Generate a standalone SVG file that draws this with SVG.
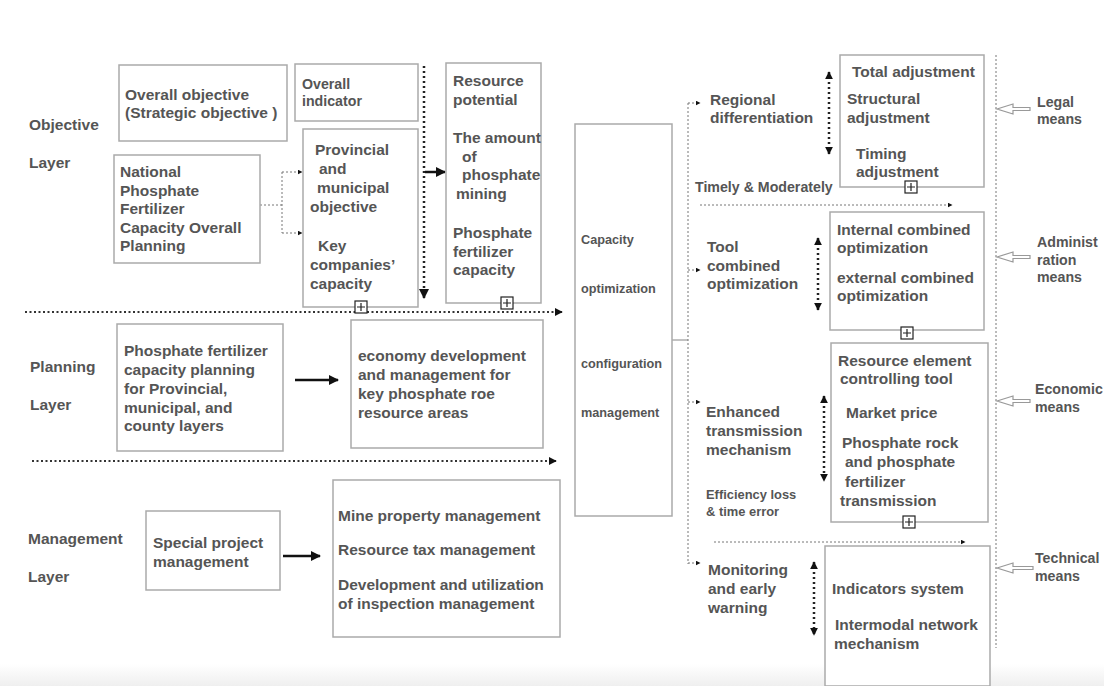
<svg xmlns="http://www.w3.org/2000/svg" width="1104" height="686" viewBox="0 0 1104 686">
<defs>
<style>
.box{fill:#fff;stroke:#aaa;stroke-width:1.5}
text{font-family:"Liberation Sans",Arial,sans-serif;font-weight:bold;fill:#555}
.t14{font-size:15.5px}
.t12{font-size:14.2px}
.tc{font-size:12.7px}
.t11{font-size:12.9px}
.dotk{stroke:#222;stroke-width:2.5;stroke-dasharray:2 3;fill:none}
.dotm{stroke:#333;stroke-width:1.8;stroke-dasharray:2 2.5;fill:none}
.dotf{stroke:#777;stroke-width:1;stroke-dasharray:2 2;fill:none}
.solid{stroke:#111;stroke-width:2.5;fill:none}
.plus{fill:#fff;stroke:#222;stroke-width:1.2}
.hollow{fill:#fff;stroke:#999;stroke-width:1.2}
</style>
<marker id="ah" viewBox="0 0 10 10" refX="9" refY="5" markerWidth="5" markerHeight="5" orient="auto-start-reverse" markerUnits="userSpaceOnUse">
<path d="M0,0 L10,5 L0,10 z" fill="#111"/>
</marker>
<marker id="ahs" viewBox="0 0 10 10" refX="9" refY="5" markerWidth="8" markerHeight="8" orient="auto-start-reverse" markerUnits="userSpaceOnUse">
<path d="M0,0 L10,5 L0,10 z" fill="#111"/>
</marker>
<marker id="ahb" viewBox="0 0 10 10" refX="9" refY="5" markerWidth="10" markerHeight="10" orient="auto-start-reverse" markerUnits="userSpaceOnUse">
<path d="M0,0 L10,5 L0,10 z" fill="#111"/>
</marker>
<linearGradient id="bg" x1="0" y1="0" x2="0" y2="1">
<stop offset="0" stop-color="#fff"/>
<stop offset="1" stop-color="#efefef"/>
</linearGradient>
</defs>
<rect width="1104" height="686" fill="#fff"/>
<rect x="0" y="664" width="1104" height="22" fill="url(#bg)"/>

<g id="layer-labels">
<text class="t14" x="29" y="130">Objective</text>
<text class="t14" x="29" y="168">Layer</text>
<text class="t14" x="30" y="372">Planning</text>
<text class="t14" x="30" y="410">Layer</text>
<text class="t14" x="28" y="544">Management</text>
<text class="t14" x="28" y="582">Layer</text>
</g>

<g id="connectors">
<path class="dotf" d="M260,205 H282 M282,172 V233"/>
<path class="dotf" d="M282,172 H302" marker-end="url(#ah)"/>
<path class="dotf" d="M282,233 H302" marker-end="url(#ah)"/>
<path class="dotk" d="M424,66 V298" marker-end="url(#ahb)"/>
<path class="solid" d="M425,172 H445" marker-end="url(#ahb)"/>
<path class="dotm" d="M25,312 H562" marker-end="url(#ahs)"/>
<path class="dotm" d="M32,461 H556" marker-end="url(#ahs)"/>
<path class="solid" d="M295,380 H338" marker-end="url(#ahb)"/>
<path class="solid" d="M283,556 H320" marker-end="url(#ahb)"/>
<path d="M672,340 H688" stroke="#999" stroke-width="1.2" fill="none"/>
<path class="dotf" d="M688,103 V564"/>
<path class="dotf" d="M688,103 H700" marker-end="url(#ah)"/>
<path class="dotf" d="M688,270 H700" marker-end="url(#ah)"/>
<path class="dotf" d="M688,402 H700" marker-end="url(#ah)"/>
<path class="dotf" d="M688,563 H700" marker-end="url(#ah)"/>
<path class="dotf" d="M700,205 H952" stroke="#444" marker-end="url(#ah)"/>
<path class="dotf" d="M714,542 H965" stroke="#444" marker-end="url(#ah)"/>
<path class="dotk" d="M829,72 V154" marker-start="url(#ahs)" marker-end="url(#ahs)"/>
<path class="dotk" d="M818,238 V310" marker-start="url(#ahs)" marker-end="url(#ahs)"/>
<path class="dotk" d="M824,396 V481" marker-start="url(#ahs)" marker-end="url(#ahs)"/>
<path class="dotk" d="M814,562 V635" marker-start="url(#ahs)" marker-end="url(#ahs)"/>
<path class="dotf" d="M996,55 V648"/>
<path class="hollow" d="M997,109 L1013,104 L1013,107.5 L1030,107.5 L1030,110.5 L1013,110.5 L1013,114 Z"/>
<path class="hollow" d="M997,257 L1013,252 L1013,255.5 L1030,255.5 L1030,258.5 L1013,258.5 L1013,262 Z"/>
<path class="hollow" d="M997,401 L1013,396 L1013,399.5 L1030,399.5 L1030,402.5 L1013,402.5 L1013,406 Z"/>
<path class="hollow" d="M997,568 L1013,563 L1013,566.5 L1033,566.5 L1033,569.5 L1013,569.5 L1013,573 Z"/>
</g>

<g id="overall-objective">
<rect class="box" x="119" y="65" width="168" height="76"/>
<text class="t14" x="125" y="100">Overall objective</text>
<text class="t14" x="125" y="118">(Strategic objective )</text>
</g>
<g id="overall-indicator">
<rect class="box" x="295" y="64" width="123" height="57"/>
<text class="t12" x="302" y="89">Overall</text>
<text class="t12" x="302" y="106">indicator</text>
</g>
<g id="national">
<rect class="box" x="114" y="155" width="146" height="108"/>
<text class="t14" x="120" y="177">National</text>
<text class="t14" x="120" y="196">Phosphate</text>
<text class="t14" x="120" y="214">Fertilizer</text>
<text class="t14" x="120" y="233">Capacity Overall</text>
<text class="t14" x="120" y="251">Planning</text>
</g>
<g id="provincial">
<rect class="box" x="303" y="129" width="115" height="178"/>
<text class="t14" x="315" y="155">Provincial</text>
<text class="t14" x="319" y="174">and</text>
<text class="t14" x="317" y="193">municipal</text>
<text class="t14" x="310" y="212">objective</text>
<text class="t14" x="318" y="251">Key</text>
<text class="t14" x="310" y="270">companies’</text>
<text class="t14" x="310" y="289">capacity</text>
<rect class="plus" x="355" y="301" width="12" height="12"/>
<path d="M361,303 V311 M357,307 H365" stroke="#222" stroke-width="1.2"/>
</g>
<g id="resource">
<rect class="box" x="446" y="63" width="95" height="240"/>
<text class="t14" x="453" y="86">Resource</text>
<text class="t14" x="453" y="105">potential</text>
<text class="t14" x="453" y="143">The amount</text>
<text class="t14" x="462" y="162">of</text>
<text class="t14" x="462" y="180">phosphate</text>
<text class="t14" x="456" y="199">mining</text>
<text class="t14" x="453" y="238">Phosphate</text>
<text class="t14" x="453" y="257">fertilizer</text>
<text class="t14" x="453" y="275">capacity</text>
<rect class="plus" x="501" y="297" width="12" height="12"/>
<path d="M507,299 V307 M503,303 H511" stroke="#222" stroke-width="1.2"/>
</g>
<g id="capacity">
<rect class="box" x="575" y="124" width="97" height="392"/>
<text class="tc" x="581" y="244">Capacity</text>
<text class="tc" x="581" y="293">optimization</text>
<text class="tc" x="581" y="368">configuration</text>
<text class="tc" x="581" y="417">management</text>
</g>
<g id="planning">
<rect class="box" x="117" y="324" width="166" height="127"/>
<text class="t14" x="124" y="356">Phosphate fertilizer</text>
<text class="t14" x="124" y="375">capacity planning</text>
<text class="t14" x="124" y="394">for Provincial,</text>
<text class="t14" x="124" y="413">municipal, and</text>
<text class="t14" x="124" y="431">county layers</text>
</g>
<g id="economy">
<rect class="box" x="351" y="320" width="192" height="128"/>
<text class="t14" x="358" y="361">economy development</text>
<text class="t14" x="358" y="380">and management for</text>
<text class="t14" x="358" y="399">key phosphate roe</text>
<text class="t14" x="358" y="418">resource areas</text>
</g>
<g id="special">
<rect class="box" x="146" y="511" width="134" height="79"/>
<text class="t14" x="153" y="548">Special project</text>
<text class="t14" x="153" y="567">management</text>
</g>
<g id="mine">
<rect class="box" x="333" y="480" width="227" height="157"/>
<text class="t14" x="338" y="521">Mine property management</text>
<text class="t14" x="338" y="555">Resource tax management</text>
<text class="t14" x="338" y="590">Development and utilization</text>
<text class="t14" x="338" y="609">of inspection management</text>
</g>

<g id="regional">
<text class="t14" x="710" y="105">Regional</text>
<text class="t14" x="710" y="123">differentiation</text>
</g>
<g id="adjustment">
<rect class="box" x="840" y="55" width="144" height="132"/>
<text class="t14" x="852" y="77">Total adjustment</text>
<text class="t14" x="847" y="104">Structural</text>
<text class="t14" x="847" y="123">adjustment</text>
<text class="t14" x="856" y="159">Timing</text>
<text class="t14" x="856" y="177">adjustment</text>
<rect class="plus" x="905" y="181" width="12" height="12"/>
<path d="M911,183 V191 M907,187 H915" stroke="#222" stroke-width="1.2"/>
</g>
<g id="timely">
<text class="t12" x="695" y="192">Timely &amp; Moderately</text>
</g>
<g id="tool">
<text class="t14" x="707" y="252">Tool</text>
<text class="t14" x="707" y="271">combined</text>
<text class="t14" x="707" y="289">optimization</text>
</g>
<g id="combined">
<rect class="box" x="830" y="212" width="154" height="118"/>
<text class="t14" x="837" y="235">Internal combined</text>
<text class="t14" x="837" y="253">optimization</text>
<text class="t14" x="837" y="283">external combined</text>
<text class="t14" x="837" y="301">optimization</text>
<rect class="plus" x="901" y="327" width="12" height="12"/>
<path d="M907,329 V337 M903,333 H911" stroke="#222" stroke-width="1.2"/>
</g>
<g id="enhanced">
<text class="t14" x="706" y="417">Enhanced</text>
<text class="t14" x="706" y="436">transmission</text>
<text class="t14" x="706" y="455">mechanism</text>
<text class="t11" x="706" y="499">Efficiency loss</text>
<text class="t11" x="706" y="516">&amp; time error</text>
</g>
<g id="resource-element">
<rect class="box" x="831" y="343" width="157" height="179"/>
<text class="t14" x="838" y="366">Resource element</text>
<text class="t14" x="840" y="384">controlling tool</text>
<text class="t14" x="846" y="418">Market price</text>
<text class="t14" x="842" y="448">Phosphate rock</text>
<text class="t14" x="845" y="467">and phosphate</text>
<text class="t14" x="845" y="487">fertilizer</text>
<text class="t14" x="840" y="506">transmission</text>
<rect class="plus" x="903" y="516" width="12" height="12"/>
<path d="M909,518 V526 M905,522 H913" stroke="#222" stroke-width="1.2"/>
</g>
<g id="monitoring">
<text class="t14" x="708" y="575">Monitoring</text>
<text class="t14" x="708" y="594">and early</text>
<text class="t14" x="708" y="613">warning</text>
</g>
<g id="indicators">
<rect class="box" x="825" y="546" width="165" height="140"/>
<text class="t14" x="832" y="594">Indicators system</text>
<text class="t14" x="835" y="630">Intermodal network</text>
<text class="t14" x="834" y="649">mechanism</text>
</g>
<g id="means">
<text class="t12" x="1037" y="107">Legal</text>
<text class="t12" x="1037" y="124">means</text>
<text class="t12" x="1037" y="247">Administ</text>
<text class="t12" x="1037" y="265">ration</text>
<text class="t12" x="1037" y="282">means</text>
<text class="t12" x="1035" y="394">Economic</text>
<text class="t12" x="1035" y="412">means</text>
<text class="t12" x="1035" y="563">Technical</text>
<text class="t12" x="1035" y="581">means</text>
</g>
</svg>
